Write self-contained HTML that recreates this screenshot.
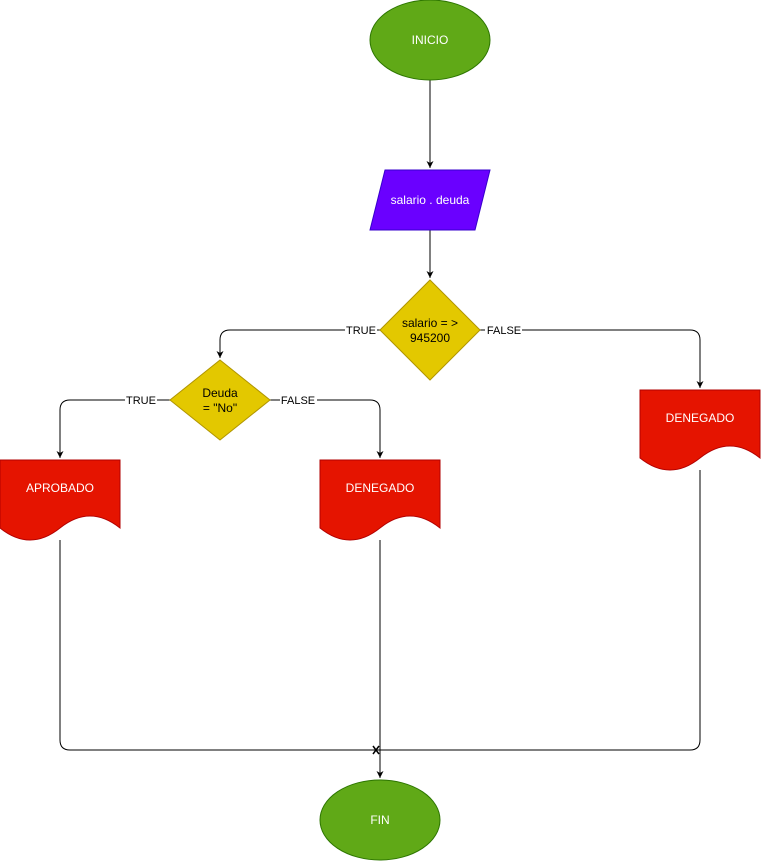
<!DOCTYPE html>
<html><head><meta charset="utf-8"><style>html,body{margin:0;padding:0;background:#fff;}svg{display:block}text{font-family:"Liberation Sans",sans-serif;font-size:12px;}</style></head>
<body>
<svg width="761" height="861" viewBox="0 0 761 861" xmlns="http://www.w3.org/2000/svg">
<defs><marker id="a" markerWidth="8" markerHeight="8" refX="7" refY="4" orient="auto" markerUnits="userSpaceOnUse"><path d="M0,0.5 L7,4 L0,7.5 L2,4 Z" fill="#000"/></marker></defs>
<g fill="none" stroke="#000" stroke-width="1">
<path d="M430,80 V168" marker-end="url(#a)"/>
<path d="M430,230 V278" marker-end="url(#a)"/>
<path d="M380,330 H230 Q220,330 220,340 V358" marker-end="url(#a)"/>
<path d="M480,330 H690 Q700,330 700,340 V388" marker-end="url(#a)"/>
<path d="M170,400 H70 Q60,400 60,410 V458" marker-end="url(#a)"/>
<path d="M270,400 H370 Q380,400 380,410 V458" marker-end="url(#a)"/>
<path d="M60,540 V740 Q60,750 70,750 H690 Q700,750 700,740 V470"/>
<path d="M380,540 V778" marker-end="url(#a)"/>
</g>
<path d="M373,746 L379,754 M379,746 L373,754" stroke="#000" stroke-width="1.5"/>
<ellipse cx="430" cy="40" rx="60" ry="40" fill="#60a917" stroke="#2d7600"/>
<text x="430" y="44" text-anchor="middle" fill="#fff">INICIO</text>
<path d="M385,170 H490 L475,230 H370 Z" fill="#6a00ff" stroke="#3700cc"/>
<text x="430" y="204" text-anchor="middle" fill="#fff">salario . deuda</text>
<path d="M430,280 L480,330 L430,380 L380,330 Z" fill="#e3c800" stroke="#b09500"/>
<text x="430" y="327" text-anchor="middle" fill="#000">salario = &gt;</text>
<text x="430" y="342" text-anchor="middle" fill="#000">945200</text>
<path d="M220,360 L270,400 L220,440 L170,400 Z" fill="#e3c800" stroke="#b09500"/>
<text x="220" y="397" text-anchor="middle" fill="#000">Deuda</text>
<text x="220" y="412" text-anchor="middle" fill="#000">= "No"</text>
<path d="M0,460 H120 V528 Q90,504 60,528 Q30,552 0,528 Z" fill="#e51400" stroke="#b20000"/>
<text x="60" y="492" text-anchor="middle" fill="#fff">APROBADO</text>
<path d="M320,460 H440 V528 Q410,504 380,528 Q350,552 320,528 Z" fill="#e51400" stroke="#b20000"/>
<text x="380" y="492" text-anchor="middle" fill="#fff">DENEGADO</text>
<path d="M640,390 H760 V458 Q730,434 700,458 Q670,482 640,458 Z" fill="#e51400" stroke="#b20000"/>
<text x="700" y="422" text-anchor="middle" fill="#fff">DENEGADO</text>
<ellipse cx="380" cy="820" rx="60" ry="40" fill="#60a917" stroke="#2d7600"/>
<text x="380" y="824" text-anchor="middle" fill="#fff">FIN</text>
<g font-size="11">
<rect x="345" y="323" width="32" height="14" fill="#fff"/><text x="361" y="334" text-anchor="middle" style="font-size:11px">TRUE</text>
<rect x="485" y="323" width="37" height="14" fill="#fff"/><text x="504" y="334" text-anchor="middle" style="font-size:11px">FALSE</text>
<rect x="125" y="393" width="32" height="14" fill="#fff"/><text x="141" y="404" text-anchor="middle" style="font-size:11px">TRUE</text>
<rect x="280" y="393" width="37" height="14" fill="#fff"/><text x="298" y="404" text-anchor="middle" style="font-size:11px">FALSE</text>
</g>
</svg>
</body></html>
